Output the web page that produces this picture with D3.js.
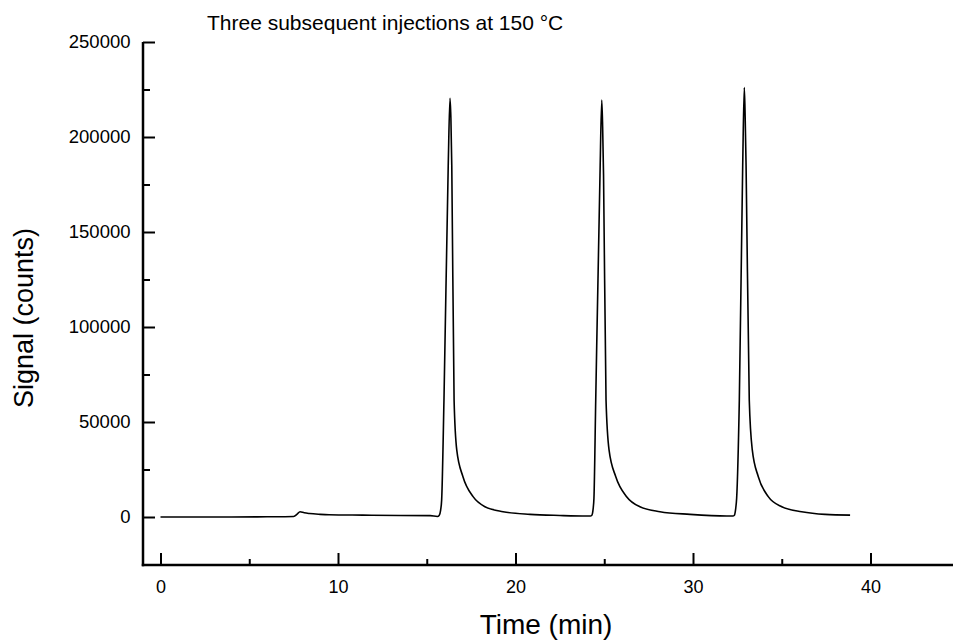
<!DOCTYPE html>
<html>
<head>
<meta charset="utf-8">
<script src="https://cdn.jsdelivr.net/npm/d3@7"></script>
<style>
  body { margin: 0; background: #fff; }
  svg text { font-family: Arial, "Liberation Sans", sans-serif; fill: #000; }
</style>
</head>
<body>
<div id="chart"></div>
<script>
// chromatogram (time in min, signal in counts)
var times = [
    0, 2, 4, 6, 7.5, 7.7, 7.86, 8.1, 8.4, 9.0, 9.5, 11.4, 13.5, 15.2, 15.6,
    15.7, 15.78, 15.84, 15.97, 16.21, 16.31, 16.36, 16.41, 16.54, 16.69, 17.04, 17.61, 18.28, 19.3, 20.82, 22.5, 24.01,
    24.22, 24.3, 24.37, 24.42, 24.52, 24.76, 24.86, 24.91, 24.96, 25.1, 25.27, 25.65, 26.26, 27.01, 28.14, 29.83, 31.9,
    32.25, 32.33, 32.4, 32.46, 32.61, 32.8, 32.89, 32.94, 32.99, 33.17, 33.34, 33.68, 34.24, 35.0, 36.12, 37.44, 38.85
];
var signal = [
    0, 0, 0, 100, 300, 1500, 2800, 2200, 1800, 1400, 1200, 1000, 800, 700, 300,
    800, 3500, 9000, 61600, 185000, 220400, 210000, 185000, 61600, 35300, 21200, 10700, 5400, 2800, 1400, 800, 500,
    500, 900, 4000, 10000, 61600, 180000, 219500, 205000, 180000, 61600, 35300, 21200, 10700, 5400, 2800, 1400, 500,
    500, 900, 4000, 10000, 61600, 185000, 226000, 210000, 185000, 61600, 35300, 21200, 10700, 5400, 2800, 1400, 1000
];

var xMajor = [0, 10, 20, 30, 40];
var xMinor = [5, 15, 25, 35];
var yMajor = [0, 50000, 100000, 150000, 200000, 250000];
var yMinor = [25000, 75000, 125000, 175000, 225000];

var titleText = "Three subsequent injections at 150 \u00B0C";
var xLabel = "Time (min)";
var yLabel = "Signal (counts)";

var width = 953,
    height = 641;

var axisX = 143,     // y axis position
    axisY = 565;     // x axis position

var x = d3.scaleLinear()
    .domain([0, 40])
    .range([160.5, 870.5]);

var y = d3.scaleLinear()
    .domain([0, 250000])
    .range([517, 42]);

var svg = d3.select("#chart").append("svg")
    .attr("width", width)
    .attr("height", height);

// minor ticks
svg.append("g")
    .attr("transform", "translate(0," + axisY + ")")
    .call(d3.axisBottom(x).tickValues(xMinor).tickSize(-6).tickFormat(""))
    .call(function (g) { g.select(".domain").remove(); })
    .selectAll("line").attr("stroke-width", 2);

svg.append("g")
    .attr("transform", "translate(" + axisX + ",0)")
    .call(d3.axisLeft(y).tickValues(yMinor).tickSize(-7).tickFormat(""))
    .call(function (g) { g.select(".domain").remove(); })
    .selectAll("line").attr("stroke-width", 2);

// major ticks + labels
var gx = svg.append("g")
    .attr("transform", "translate(0," + axisY + ")")
    .call(d3.axisBottom(x).tickValues(xMajor).tickSize(-12).tickPadding(15).tickFormat(d3.format("d")));
gx.select(".domain").remove();
gx.selectAll("line").attr("stroke-width", 2);
gx.selectAll("text").style("font-size", "18px").style("font-family", "Arial, 'Liberation Sans', sans-serif");

var gy = svg.append("g")
    .attr("transform", "translate(" + axisX + ",0)")
    .call(d3.axisLeft(y).tickValues(yMajor).tickSize(-12).tickPadding(12.5).tickFormat(d3.format("d")));
gy.select(".domain").remove();
gy.selectAll("line").attr("stroke-width", 2);
gy.selectAll("text").style("font-size", "18.5px").style("font-family", "Arial, 'Liberation Sans', sans-serif");

// axis lines
svg.append("line")
    .attr("x1", axisX).attr("x2", axisX)
    .attr("y1", y(250000)).attr("y2", axisY + 1.25)
    .attr("stroke", "#000").attr("stroke-width", 2.5);
svg.append("line")
    .attr("x1", axisX - 1.25).attr("x2", width)
    .attr("y1", axisY).attr("y2", axisY)
    .attr("stroke", "#000").attr("stroke-width", 2.5);

// trace
var pts = times.map(function (t, i) { return [t, signal[i]]; });
var line = d3.line()
    .x(function (d) { return x(d[0]); })
    .y(function (d) { return y(d[1]); })
    .curve(d3.curveMonotoneX);

svg.append("path")
    .datum(pts)
    .attr("fill", "none")
    .attr("stroke", "#000")
    .attr("stroke-width", 1.6)
    .attr("d", line);

// texts
svg.append("text")
    .attr("x", 207)
    .attr("y", 30)
    .style("font-size", "21px")
    .text(titleText);

svg.append("text")
    .attr("x", 546)
    .attr("y", 634)
    .attr("text-anchor", "middle")
    .style("font-size", "28px")
    .text(xLabel);

svg.append("text")
    .attr("transform", "translate(33,318) rotate(-90)")
    .attr("text-anchor", "middle")
    .style("font-size", "27px")
    .text(yLabel);
</script>
</body>
</html>
